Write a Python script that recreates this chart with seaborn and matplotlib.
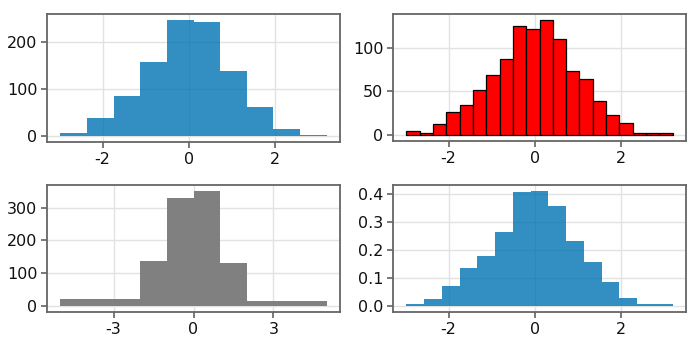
import numpy as np
import pandas as pd
import matplotlib
matplotlib.use("Agg")
import matplotlib.pyplot as plt
import seaborn as sns

# Range shared by the equal-width histograms
x_lo, x_hi = -2.98, 3.19

# Panel 1: 10 equal bins, counts
counts_10 = [7, 38, 85, 156, 246, 242, 137, 62, 16, 3]

# Panel 2: 20 equal bins, counts
counts_20 = [5, 3, 13, 26, 34, 52, 69, 87, 125, 122,
             132, 110, 74, 64, 39, 23, 14, 3, 3, 2]

# Panel 3: custom bin edges, counts
edges_custom = [-5, -2, -1, 0, 1, 2, 5]
counts_custom = [23, 136, 329, 351, 131, 17]

# Panel 4: 15 equal bins, normalized density
density_15 = [0.0084, 0.025, 0.073, 0.137, 0.181, 0.267, 0.410, 0.413,
              0.359, 0.233, 0.157, 0.087, 0.031, 0.0084, 0.0084]

yticks_tl = [0, 100, 200]
yticks_tr = [0, 50, 100]
yticks_bl = [0, 100, 200, 300]
yticks_br = [0.0, 0.1, 0.2, 0.3, 0.4]
xticks_main = [-2, 0, 2]
xticks_wide = [-3, 0, 3]

sns.set_theme(style="whitegrid")
plt.rcParams["font.family"] = ["DejaVu Sans"]

W, H = 700, 350
fig = plt.figure(figsize=(W / 100, H / 100), dpi=100)
fig.patch.set_facecolor("white")


def axes_px(left, top, right, bottom):
    return fig.add_axes([left / W, 1 - bottom / H, (right - left) / W, (bottom - top) / H])


def binned(edges, values):
    e = [float(v) for v in edges]
    centers = [(a + b) / 2 for a, b in zip(e[:-1], e[1:])]
    return pd.DataFrame({"x": centers, "w": [float(v) for v in values]}), e


def style(ax, xticks, yticks, yfmt=None):
    ax.set_facecolor("white")
    ax.grid(True, color="#e2e2e2", linewidth=1.0)
    ax.set_axisbelow(True)
    for s in ax.spines.values():
        s.set_visible(True)
        s.set_color("#666666")
        s.set_linewidth(1.3)
    ax.set_xticks(xticks)
    ax.set_yticks(yticks)
    ax.set_xticklabels([str(t) for t in xticks], family="DejaVu Sans")
    labels = [yfmt.format(t) for t in yticks] if yfmt else [str(t) for t in yticks]
    ax.set_yticklabels(labels, family="DejaVu Sans")
    ax.tick_params(axis="both", which="major", direction="out", length=4, width=1.1,
                   color="#555555", labelsize=11.5, labelcolor="#111111", pad=3,
                   bottom=True, left=True, top=False, right=False)
    ax.set_xlabel("")
    ax.set_ylabel("")


def limits(ax, lo, hi, ymax):
    mx = 0.05 * (hi - lo)
    ax.set_xlim(lo - mx, hi + mx)
    ax.set_ylim(-0.05 * ymax, 1.05 * ymax)


blue = "#0072B2"

# Top-left
ax1 = axes_px(47, 14, 340, 142)
df, e = binned(np.linspace(x_lo, x_hi, len(counts_10) + 1), counts_10)
sns.histplot(data=df, x="x", weights="w", bins=e, ax=ax1, color=blue, alpha=0.8,
             edgecolor=blue, linewidth=0)
limits(ax1, x_lo, x_hi, max(counts_10))
style(ax1, xticks_main, yticks_tl)

# Top-right
ax2 = axes_px(393, 14, 686, 141)
df, e = binned(np.linspace(x_lo, x_hi, len(counts_20) + 1), counts_20)
sns.histplot(data=df, x="x", weights="w", bins=e, ax=ax2, color="red", alpha=1.0,
             edgecolor="black", linewidth=0.9)
limits(ax2, x_lo, x_hi, max(counts_20))
style(ax2, xticks_main, yticks_tr)

# Bottom-left
ax3 = axes_px(47, 185, 340, 312)
df, e = binned(edges_custom, counts_custom)
sns.histplot(data=df, x="x", weights="w", bins=e, ax=ax3, color="gray", alpha=1.0,
             edgecolor="gray", linewidth=0)
limits(ax3, e[0], e[-1], max(counts_custom))
style(ax3, xticks_wide, yticks_bl)

# Bottom-right
ax4 = axes_px(393, 185, 686, 312)
df, e = binned(np.linspace(x_lo, x_hi, len(density_15) + 1), density_15)
sns.histplot(data=df, x="x", weights="w", bins=e, ax=ax4, color=blue, alpha=0.8,
             edgecolor=blue, linewidth=0)
limits(ax4, x_lo, x_hi, max(density_15))
style(ax4, xticks_main, yticks_br, yfmt="{:.1f}")

fig.savefig("out.png", dpi=100, facecolor="white")
